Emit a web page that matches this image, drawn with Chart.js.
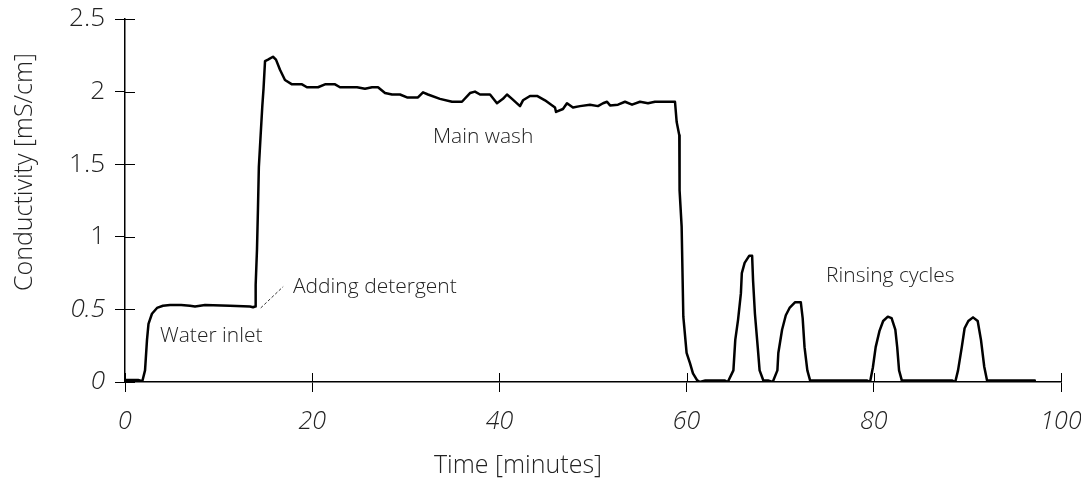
<!DOCTYPE html>
<html>
<head>
<meta charset="utf-8">
<script src="https://cdn.jsdelivr.net/npm/chart.js@4.4.1/dist/chart.umd.min.js"></script>
<style>
  body { margin: 0; background: #fff; }
  canvas { display: block; }
</style>
</head>
<body>
<canvas id="myChart" width="1081" height="482"></canvas>
<script>

// time in minutes and conductivity in mS/cm
const timeMin = [
  0, 1.4, 1.85, 2.14, 2.35, 2.51, 2.88, 3.42, 4.06, 4.81, 6.0, 6.94, 7.48, 8.55, 11.2, 13.35, 13.68, 13.89,
  13.96, 14.1, 14.2, 14.3, 14.5, 14.67, 14.8, 14.96, 15.28, 15.81, 16.13, 16.56, 17.09, 17.84, 18.91, 19.44,
  20.62, 21.37, 22.44, 22.97, 24.79, 25.64, 26.39, 27.03, 27.78, 28.53, 29.38, 30.13, 31.3, 31.84, 32.37,
  33.65, 34.94, 36.0, 36.86, 37.39, 37.93, 39.0, 39.74, 40.38, 40.81, 41.35, 42.2, 42.52, 43.27, 44.02,
  44.87, 45.94, 46.05, 46.79, 47.22, 47.86, 48.61, 49.68, 50.53, 51.07, 51.5, 51.82, 52.67, 53.42, 54.17,
  55.02, 55.88, 56.62, 57.48, 58.76, 58.94, 59.22, 59.25, 59.47, 59.65, 59.75, 60.0, 60.36, 60.68, 61.1,
  61.4, 62.0, 64.1, 64.4, 65.0, 65.2, 65.5, 65.8, 65.9, 66.2, 66.7, 67.0, 67.1, 67.3, 67.6, 67.8, 68.2,
  68.7, 69.2, 69.7, 69.8, 70.2, 70.6, 71.0, 71.6, 72.2, 72.4, 72.6, 72.9, 73.2, 74.25, 79.3, 79.6, 79.9,
  80.2, 80.6, 81.0, 81.5, 81.9, 82.3, 82.5, 82.7, 83.0, 88.4, 88.7, 89.0, 89.4, 89.7, 90.1, 90.6, 91.1,
  91.45, 91.8, 92.1, 97.2
];
const conductivity = [
  0.014, 0.014, 0.005, 0.08, 0.29, 0.40, 0.47, 0.51, 0.525, 0.53, 0.53, 0.525, 0.52, 0.53, 0.525, 0.52, 0.515, 0.52,
  0.67, 0.91, 1.18, 1.48, 1.71, 1.90, 2.02, 2.21, 2.22, 2.24, 2.22, 2.15, 2.08, 2.05, 2.05, 2.03,
  2.03, 2.05, 2.05, 2.03, 2.03, 2.02, 2.03, 2.03, 1.99, 1.98, 1.98, 1.96, 1.96, 1.995, 1.98,
  1.95, 1.93, 1.93, 1.99, 2.0, 1.98, 1.98, 1.92, 1.95, 1.98, 1.95, 1.90, 1.94, 1.97, 1.97,
  1.94, 1.89, 1.86, 1.88, 1.92, 1.89, 1.90, 1.91, 1.90, 1.92, 1.93, 1.905, 1.91, 1.93, 1.91,
  1.93, 1.92, 1.93, 1.93, 1.93, 1.79, 1.70, 1.32, 1.07, 0.45, 0.38, 0.20, 0.13, 0.06, 0.014,
  0, 0.01, 0.01, 0, 0.08, 0.29, 0.43, 0.61, 0.75, 0.82, 0.87, 0.87, 0.70, 0.47, 0.24, 0.08, 0.01,
  0.01, 0, 0.08, 0.2, 0.36, 0.46, 0.51, 0.55, 0.55, 0.44, 0.24, 0.08, 0.01, 0.01, 0.01, 0, 0.10,
  0.24, 0.35, 0.42, 0.45, 0.44, 0.36, 0.24, 0.08, 0.01, 0.01, 0, 0.08, 0.24, 0.37, 0.42, 0.445, 0.42,
  0.29, 0.105, 0.01, 0.01
];

const xTicks = [0, 20, 40, 60, 80, 100];
const yTicks = [0, 0.5, 1, 1.5, 2, 2.5];

const labelsText = ['Main wash', 'Water inlet', 'Adding detergent', 'Rinsing cycles'];
const labelsAt = [[32.9, 1.646], [3.74, 0.275], [17.95, 0.613], [74.9, 0.689]];

const fontName = '"Open Sans", Lato, sans-serif';
const textColor = '#222';

// ticks in the picture cross the axis line, chart.js only draws the outer half
const crossTicks = {
  id: 'crossTicks',
  afterDraw(chart) {
    const c = chart.ctx;
    const xs = chart.scales.x, ys = chart.scales.y;
    const area = chart.chartArea;
    c.save();
    c.strokeStyle = '#000';
    c.lineWidth = 1;
    c.beginPath();
    xTicks.forEach(v => {
      const px = Math.round(xs.getPixelForValue(v)) + 0.5;
      c.moveTo(px, area.bottom);
      c.lineTo(px, area.bottom - 9);
    });
    yTicks.forEach(v => {
      const py = Math.round(ys.getPixelForValue(v)) + 0.5;
      c.moveTo(area.left, py);
      c.lineTo(area.left + 10, py);
    });
    c.stroke();

    // annotations
    c.fillStyle = textColor;
    c.font = '300 21px ' + fontName;
    c.textBaseline = 'alphabetic';
    c.textAlign = 'left';
    labelsText.forEach((t, i) => {
      c.fillText(t, xs.getPixelForValue(labelsAt[i][0]), ys.getPixelForValue(labelsAt[i][1]));
    });

    // leader line to "Adding detergent"
    c.setLineDash([3, 2]);
    c.strokeStyle = '#333';
    c.beginPath();
    c.moveTo(xs.getPixelForValue(14.5), ys.getPixelForValue(0.51));
    c.lineTo(xs.getPixelForValue(16.9), ys.getPixelForValue(0.657));
    c.stroke();
    c.setLineDash([]);

    // axis titles
    c.font = '300 25px ' + fontName;
    c.textAlign = 'center';
    c.fillText('Time [minutes]', 518, 473);
    c.translate(32, 172);
    c.rotate(-Math.PI / 2);
    c.fillText('Conductivity [mS/cm]', 0, 0);
    c.restore();
  }
};

const ctx = document.getElementById('myChart');

new Chart(ctx, {
  type: 'line',
  data: {
    datasets: [{
      data: timeMin.map((t, i) => ({ x: t, y: conductivity[i] })),
      borderColor: '#000',
      borderWidth: 2.5,
      borderJoinStyle: 'round',
      borderCapStyle: 'round',
      pointRadius: 0,
      tension: 0,
      fill: false
    }]
  },
  options: {
    responsive: false,
    animation: false,
    layout: { padding: { top: 19, right: 20, left: 0, bottom: 0 } },
    scales: {
      x: {
        type: 'linear',
        min: 0,
        max: 100,
        afterFit: s => { s.height = 100; s.paddingLeft = 0; s.paddingRight = 0; },
        afterBuildTicks: s => { s.ticks = xTicks.map(v => ({ value: v })); },
        grid: { drawOnChartArea: false, drawTicks: true, tickLength: 10, color: '#000', lineWidth: 1 },
        border: { color: '#000', width: 1.5 },
        ticks: {
          color: textColor,
          padding: 15,
          maxRotation: 0,
          font: { family: fontName, size: 25, style: 'italic', weight: 300 }
        }
      },
      y: {
        min: 0,
        max: 2.5,
        afterFit: s => { s.width = 125; s.paddingTop = 0; s.paddingBottom = 0; },
        afterBuildTicks: s => { s.ticks = yTicks.map(v => ({ value: v })); },
        grid: { drawOnChartArea: false, drawTicks: true, tickLength: 10, color: '#000', lineWidth: 1 },
        border: { color: '#000', width: 1.5 },
        ticks: {
          color: textColor,
          padding: 10,
          callback: v => String(v),
          font: c => ({ family: fontName, size: 26, weight: 300, style: c.tick && c.tick.value < 1 ? 'italic' : 'normal' })
        }
      }
    },
    plugins: {
      legend: { display: false },
      tooltip: { enabled: false }
    }
  },
  plugins: [crossTicks]
});

</script>
</body>
</html>
